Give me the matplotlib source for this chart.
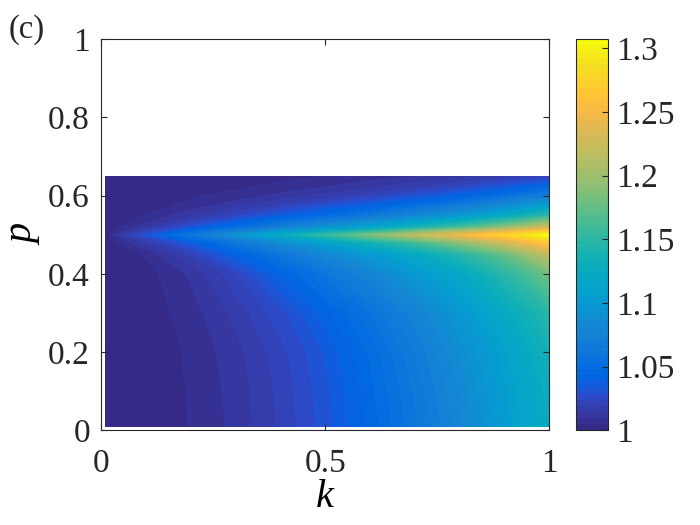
import numpy as np
import matplotlib
matplotlib.use("Agg")
import matplotlib.pyplot as plt
from matplotlib.colors import ListedColormap, Normalize
from matplotlib.cm import ScalarMappable

# grid (value - 1 at each k, p)
k_vals = [0.01, 0.1, 0.2, 0.3, 0.4, 0.5, 0.6, 0.7, 0.8, 0.9, 1.0]
p_vals = [0.01, 0.1, 0.2, 0.3, 0.4, 0.45, 0.48, 0.5, 0.52, 0.55, 0.58, 0.6, 0.62, 0.65]
d_p001 = [0.0, 0.0013, 0.005, 0.011, 0.020, 0.031, 0.045, 0.061, 0.080, 0.101, 0.125]
d_p010 = [0.0, 0.0013, 0.0052, 0.0115, 0.0205, 0.032, 0.046, 0.063, 0.082, 0.104, 0.128]
d_p020 = [0.0, 0.0014, 0.0057, 0.0125, 0.022, 0.034, 0.049, 0.067, 0.087, 0.109, 0.135]
d_p030 = [0.0, 0.0018, 0.0072, 0.016, 0.027, 0.041, 0.057, 0.076, 0.097, 0.121, 0.148]
d_p040 = [0.0, 0.0026, 0.0105, 0.023, 0.040, 0.060, 0.078, 0.098, 0.118, 0.148, 0.18]
d_p045 = [0.0, 0.0056, 0.020, 0.040, 0.060, 0.080, 0.100, 0.120, 0.145, 0.175, 0.22]
d_p048 = [0.001, 0.015, 0.035, 0.060, 0.085, 0.110, 0.135, 0.160, 0.190, 0.225, 0.265]
d_p050 = [0.003, 0.031, 0.061, 0.092, 0.123, 0.154, 0.184, 0.215, 0.246, 0.276, 0.307]
d_p052 = [0.001, 0.012, 0.030, 0.050, 0.070, 0.090, 0.110, 0.135, 0.160, 0.190, 0.225]
d_p055 = [0.0, 0.005, 0.013, 0.023, 0.035, 0.048, 0.062, 0.078, 0.097, 0.120, 0.150]
d_p058 = [0.0, 0.002, 0.006, 0.011, 0.018, 0.026, 0.035, 0.046, 0.060, 0.077, 0.100]
d_p060 = [0.0, 0.001, 0.004, 0.007, 0.011, 0.016, 0.022, 0.030, 0.040, 0.053, 0.070]
d_p062 = [0.0, 0.0005, 0.002, 0.004, 0.007, 0.010, 0.014, 0.019, 0.026, 0.036, 0.048]
d_p065 = [0.0, 0.0, 0.001, 0.002, 0.003, 0.005, 0.007, 0.009, 0.012, 0.016, 0.020]
cb_ticks = [1, 1.05, 1.1, 1.15, 1.2, 1.25, 1.3]

# MATLAB parula, 64 entries
PARULA = [
    [0.2081, 0.1663, 0.5292], [0.2116, 0.1898, 0.5777], [0.2123, 0.2138, 0.6270],
    [0.2081, 0.2386, 0.6771], [0.1959, 0.2645, 0.7279], [0.1707, 0.2919, 0.7792],
    [0.1253, 0.3242, 0.8303], [0.0591, 0.3598, 0.8683], [0.0117, 0.3875, 0.8820],
    [0.0060, 0.4086, 0.8828], [0.0165, 0.4266, 0.8786], [0.0329, 0.4430, 0.8720],
    [0.0498, 0.4586, 0.8641], [0.0629, 0.4737, 0.8554], [0.0723, 0.4887, 0.8467],
    [0.0779, 0.5040, 0.8384], [0.0793, 0.5200, 0.8312], [0.0749, 0.5375, 0.8263],
    [0.0641, 0.5570, 0.8240], [0.0488, 0.5772, 0.8228], [0.0343, 0.5966, 0.8199],
    [0.0265, 0.6137, 0.8135], [0.0239, 0.6287, 0.8038], [0.0231, 0.6418, 0.7913],
    [0.0228, 0.6535, 0.7768], [0.0267, 0.6642, 0.7607], [0.0384, 0.6743, 0.7436],
    [0.0590, 0.6838, 0.7254], [0.0843, 0.6928, 0.7062], [0.1133, 0.7015, 0.6859],
    [0.1453, 0.7098, 0.6646], [0.1801, 0.7177, 0.6424], [0.2178, 0.7250, 0.6193],
    [0.2586, 0.7317, 0.5954], [0.3022, 0.7376, 0.5712], [0.3482, 0.7424, 0.5473],
    [0.3953, 0.7459, 0.5244], [0.4420, 0.7481, 0.5033], [0.4871, 0.7491, 0.4840],
    [0.5300, 0.7491, 0.4661], [0.5709, 0.7485, 0.4494], [0.6099, 0.7473, 0.4337],
    [0.6473, 0.7456, 0.4188], [0.6834, 0.7435, 0.4044], [0.7184, 0.7411, 0.3905],
    [0.7525, 0.7384, 0.3768], [0.7858, 0.7356, 0.3633], [0.8185, 0.7327, 0.3498],
    [0.8507, 0.7299, 0.3360], [0.8824, 0.7274, 0.3217], [0.9139, 0.7258, 0.3063],
    [0.9450, 0.7261, 0.2886], [0.9739, 0.7314, 0.2666], [0.9938, 0.7455, 0.2403],
    [0.9990, 0.7653, 0.2164], [0.9955, 0.7861, 0.1967], [0.9880, 0.8066, 0.1794],
    [0.9789, 0.8271, 0.1633], [0.9697, 0.8481, 0.1475], [0.9626, 0.8705, 0.1309],
    [0.9589, 0.8949, 0.1132], [0.9598, 0.9218, 0.0948], [0.9661, 0.9514, 0.0755],
    [0.9763, 0.9831, 0.0538]]
cmap = ListedColormap(PARULA)

plt.rcParams.update({"font.family": ["Liberation Serif", "DejaVu Serif"],
                     "font.size": 24, "axes.linewidth": 0.8,
                     "axes.edgecolor": "#262626", "xtick.color": "#262626",
                     "ytick.color": "#262626", "text.color": "#262626"})

Z = 1 + np.array([d_p001, d_p010, d_p020, d_p030, d_p040, d_p045, d_p048,
                  d_p050, d_p052, d_p055, d_p058, d_p060, d_p062, d_p065])
K, P = np.meshgrid(k_vals, p_vals)
zmin, zmax = 1.0, Z.max()
levels = np.linspace(zmin, zmax, 65)

fig = plt.figure(figsize=(7, 5.25), dpi=100)
ax = fig.add_axes([0.1443, 0.1804, 0.6404, 0.7448])
ax.contourf(K, P, Z, levels=levels, cmap=cmap, vmin=zmin, vmax=zmax,
            antialiased=False)
ax.set_xlim(0, 1); ax.set_ylim(0, 1)
ax.set_xticks([0, 0.5, 1]); ax.set_xticklabels(["0", "0.5", "1"])
ax.set_yticks([0, 0.2, 0.4, 0.6, 0.8, 1])
ax.set_yticklabels(["0", "0.2", "0.4", "0.6", "0.8", "1"])
ax.tick_params(direction="in", length=4, width=0.8, top=True, right=True)
ax.tick_params(axis="x", pad=13)
ax.tick_params(axis="y", pad=8)
ax.set_xlabel("k", fontstyle="italic", fontsize=29, labelpad=0)
ax.set_ylabel("p", fontstyle="italic", fontsize=29)
ax.yaxis.set_label_coords(-0.13, 0.5)

cax = fig.add_axes([0.8224, 0.1804, 0.0461, 0.7448])
cb = fig.colorbar(ScalarMappable(norm=Normalize(zmin, zmax), cmap=cmap), cax=cax)
cb.set_ticks(cb_ticks)
cb.set_ticklabels(["1", "1.05", "1.1", "1.15", "1.2", "1.25", "1.3"])
cb.outline.set_linewidth(0.8)
cax.tick_params(direction="in", length=4, width=0.8, pad=6)

fig.text(0.012, 0.9276, "(c)", fontsize=23.5, va="baseline")
fig.savefig("out.png", dpi=100)
